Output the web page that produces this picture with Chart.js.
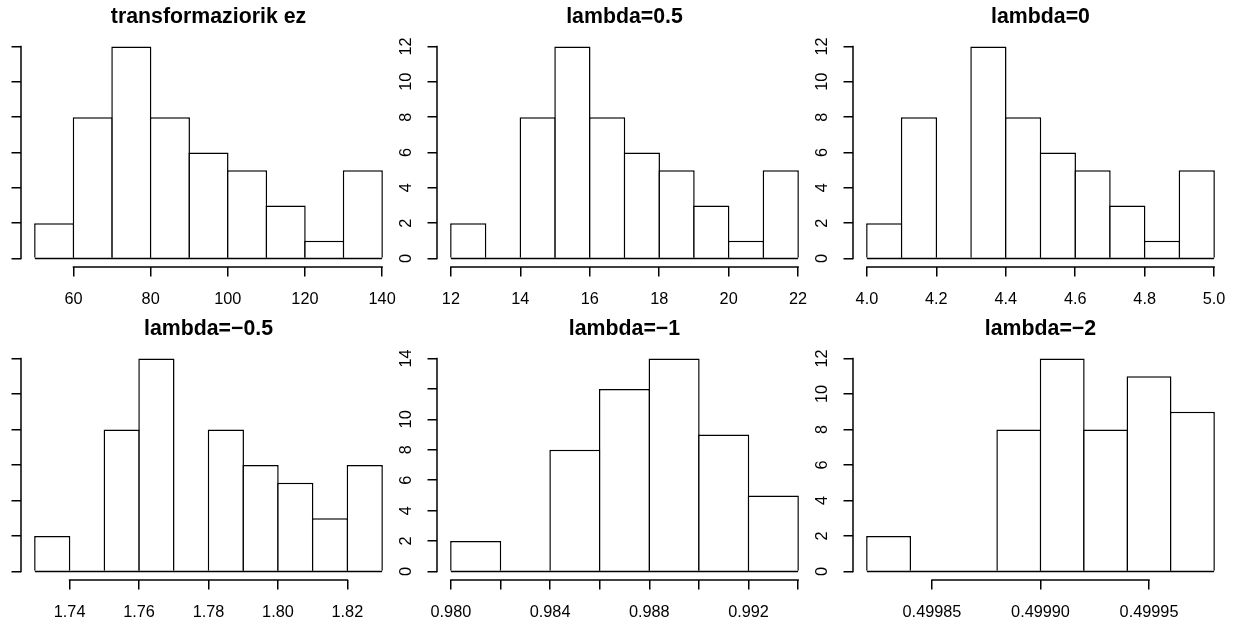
<!DOCTYPE html>
<html>
<head>
<meta charset="utf-8">
<script src="https://cdn.jsdelivr.net/npm/chart.js@4.4.1/dist/chart.umd.min.js"></script>
<style>
  html, body { margin: 0; padding: 0; background: #ffffff; }
  body { width: 1236px; height: 622px; overflow: hidden; position: relative; }
  canvas { position: absolute; }
</style>
</head>
<body>
<canvas id="p1"></canvas>
<canvas id="p2"></canvas>
<canvas id="p3"></canvas>
<canvas id="p4"></canvas>
<canvas id="p5"></canvas>
<canvas id="p6"></canvas>
<script>
// ---------- data ----------
const titles = ['transformaziorik ez', 'lambda=0.5', 'lambda=0', 'lambda=\u22120.5', 'lambda=\u22121', 'lambda=\u22122'];

// panel 1: original data
const breaksOrig = [50, 60, 70, 80, 90, 100, 110, 120, 130, 140];
const countsOrig = [2, 8, 12, 8, 6, 5, 3, 1, 5];
const xTicksOrig = [60, 80, 100, 120, 140];
const xLabelsOrig = ['60', '80', '100', '120', '140'];

// panel 2: lambda = 0.5
const breaksL05 = [12, 13, 14, 15, 16, 17, 18, 19, 20, 21, 22];
const countsL05 = [2, 0, 8, 12, 8, 6, 5, 3, 1, 5];
const xTicksL05 = [12, 14, 16, 18, 20, 22];
const xLabelsL05 = ['12', '14', '16', '18', '20', '22'];

// panel 3: lambda = 0
const breaksL0 = [4.0, 4.1, 4.2, 4.3, 4.4, 4.5, 4.6, 4.7, 4.8, 4.9, 5.0];
const countsL0 = [2, 8, 0, 12, 8, 6, 5, 3, 1, 5];
const xTicksL0 = [4.0, 4.2, 4.4, 4.6, 4.8, 5.0];
const xLabelsL0 = ['4.0', '4.2', '4.4', '4.6', '4.8', '5.0'];

// panel 4: lambda = -0.5
const breaksLm05 = [1.73, 1.74, 1.75, 1.76, 1.77, 1.78, 1.79, 1.80, 1.81, 1.82, 1.83];
const countsLm05 = [2, 0, 8, 12, 0, 8, 6, 5, 3, 6];
const xTicksLm05 = [1.74, 1.76, 1.78, 1.80, 1.82];
const xLabelsLm05 = ['1.74', '1.76', '1.78', '1.80', '1.82'];

// panel 5: lambda = -1
const breaksLm1 = [0.980, 0.982, 0.984, 0.986, 0.988, 0.990, 0.992, 0.994];
const countsLm1 = [2, 0, 8, 12, 14, 9, 5];
const xTicksLm1 = [0.980, 0.982, 0.984, 0.986, 0.988, 0.990, 0.992, 0.994];
const xLabelsLm1 = ['0.980', '', '0.984', '', '0.988', '', '0.992', ''];

// panel 6: lambda = -2
const breaksLm2 = [0.49982, 0.49984, 0.49986, 0.49988, 0.49990, 0.49992, 0.49994, 0.49996, 0.49998];
const countsLm2 = [2, 0, 0, 8, 12, 8, 11, 9];
const xTicksLm2 = [0.49985, 0.49990, 0.49995];
const xLabelsLm2 = ['0.49985', '0.49990', '0.49995'];

// y axis ticks
const yTicks12 = [0, 2, 4, 6, 8, 10, 12];
const yLabels12 = ['0', '2', '4', '6', '8', '10', '12'];
const yTicks14 = [0, 2, 4, 6, 8, 10, 12, 14];
const yLabels14 = ['0', '2', '4', '6', '8', '10', '', '14'];

// ---------- layout ----------
const FONT = "'Liberation Sans', Arial, Helvetica, sans-serif";
const M_LEFT = 60, M_RIGHT = 30, T_TOP = 38, B_BOTTOM = 55;
const colLeft = [21, 437, 853];
const plotW = 375;
const rowTop = [38, 350];
const rowH = [229, 230];
const LW = 1.5;

const rAxisLines = {
  id: 'rAxisLines',
  afterDraw(chart) {
    const { ctx, chartArea } = chart;
    const x = chart.scales.x, y = chart.scales.y;
    ctx.save();
    ctx.strokeStyle = '#000';
    ctx.lineWidth = LW;
    ctx.lineCap = 'square';
    // x axis line, spanning first to last tick
    const xa = x.getPixelForValue(x.ticks[0].value);
    const xb = x.getPixelForValue(x.ticks[x.ticks.length - 1].value);
    const yb = chartArea.bottom;
    ctx.beginPath();
    ctx.moveTo(xa, yb);
    ctx.lineTo(xb, yb);
    ctx.stroke();
    // y axis line, spanning first to last tick
    const ya = y.getPixelForValue(y.ticks[0].value);
    const yc = y.getPixelForValue(y.ticks[y.ticks.length - 1].value);
    const xl = chartArea.left;
    ctx.beginPath();
    ctx.moveTo(xl, ya);
    ctx.lineTo(xl, yc);
    ctx.stroke();
    ctx.restore();
  }
};

function makePanel(id, col, row, title, breaks, counts, xTicks, xLabels, yTicks, yLabels) {
  const canvas = document.getElementById(id);
  const W = M_LEFT + plotW + M_RIGHT;
  const H = T_TOP + rowH[row] + B_BOTTOM;
  canvas.width = W; canvas.height = H;
  canvas.style.width = W + 'px'; canvas.style.height = H + 'px';
  canvas.style.left = (colLeft[col] - M_LEFT) + 'px';
  canvas.style.top = (rowTop[row] - T_TOP) + 'px';

  const lo = breaks[0], hi = breaks[breaks.length - 1], span = hi - lo;
  const xmin = lo - 0.04 * span, xmax = hi + 0.04 * span;
  const ymaxData = Math.max(...counts);
  const ymin = -0.04 * ymaxData, ymax = 1.04 * ymaxData;
  const binW = breaks[1] - breaks[0];
  const binPx = plotW * binW / (xmax - xmin);
  const bars = counts.map((c, i) => ({ x: (breaks[i] + breaks[i + 1]) / 2, y: c }));

  const tickFont = { family: FONT, size: 16.3 };

  new Chart(canvas, {
    type: 'bar',
    data: {
      datasets: [
        { type: 'line', data: [{ x: lo, y: 0 }, { x: hi, y: 0 }], borderColor: '#000', borderWidth: LW,
          pointRadius: 0, fill: false, order: 0 },
        { type: 'bar', data: bars, backgroundColor: '#fff', borderColor: '#000', borderWidth: LW,
          borderSkipped: 'start', barPercentage: (binPx + LW) / binPx, categoryPercentage: 1, order: 1 }
      ]
    },
    options: {
      responsive: false,
      maintainAspectRatio: false,
      animation: false,
      events: [],
      layout: { padding: { left: 0, right: M_RIGHT, top: 0, bottom: 0 } },
      plugins: {
        legend: { display: false },
        tooltip: { enabled: false },
        title: {
          display: true, text: title, fullSize: false, color: '#000',
          font: { family: FONT, size: 21.3, weight: 'bold', lineHeight: 1.2 },
          padding: { top: 4.8, bottom: 7.6 }
        }
      },
      scales: {
        x: {
          type: 'linear', min: xmin, max: xmax, bounds: 'data', offset: false,
          afterBuildTicks: s => { s.ticks = xTicks.map(v => ({ value: v })); },
          afterFit: s => { s.height = B_BOTTOM; },
          grid: { display: true, drawOnChartArea: false, drawTicks: true, tickLength: 9.5, color: '#000', lineWidth: LW, offset: false },
          border: { display: false },
          ticks: { autoSkip: false, maxRotation: 0, minRotation: 0, padding: 12.8, color: '#000', font: tickFont,
                   callback: (v, i) => xLabels[i] }
        },
        y: {
          type: 'linear', min: ymin, max: ymax, bounds: 'data',
          afterBuildTicks: s => { s.ticks = yTicks.map(v => ({ value: v })); },
          afterFit: s => { s.width = M_LEFT; },
          grid: { display: true, drawOnChartArea: false, drawTicks: true, tickLength: 9.5, color: '#000', lineWidth: LW },
          border: { display: false },
          ticks: { autoSkip: false, minRotation: 90, maxRotation: 90, crossAlign: 'center', padding: 11.6,
                   color: '#000', font: tickFont, callback: (v, i) => yLabels[i] }
        }
      }
    },
    plugins: [rAxisLines]
  });
}

makePanel('p1', 0, 0, titles[0], breaksOrig, countsOrig, xTicksOrig, xLabelsOrig, yTicks12, yLabels12);
makePanel('p2', 1, 0, titles[1], breaksL05, countsL05, xTicksL05, xLabelsL05, yTicks12, yLabels12);
makePanel('p3', 2, 0, titles[2], breaksL0, countsL0, xTicksL0, xLabelsL0, yTicks12, yLabels12);
makePanel('p4', 0, 1, titles[3], breaksLm05, countsLm05, xTicksLm05, xLabelsLm05, yTicks12, yLabels12);
makePanel('p5', 1, 1, titles[4], breaksLm1, countsLm1, xTicksLm1, xLabelsLm1, yTicks14, yLabels14);
makePanel('p6', 2, 1, titles[5], breaksLm2, countsLm2, xTicksLm2, xLabelsLm2, yTicks12, yLabels12);
</script>
</body>
</html>
